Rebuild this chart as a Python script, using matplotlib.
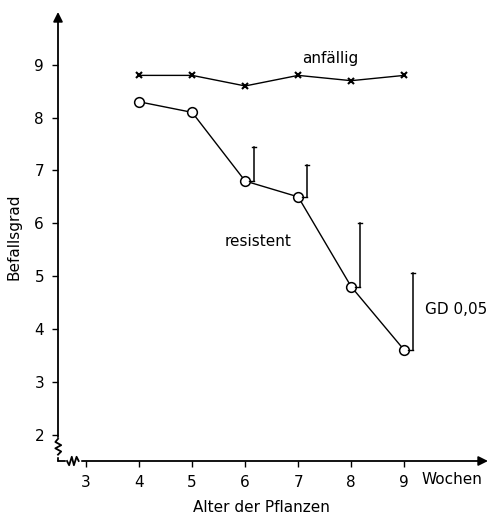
import matplotlib.pyplot as plt

# data
wochen = [4, 5, 6, 7, 8, 9]
anfaellig = [8.8, 8.8, 8.6, 8.8, 8.7, 8.8]
resistent = [8.3, 8.1, 6.8, 6.5, 4.8, 3.6]
gd_wochen = [6, 7, 8, 9]
gd_werte = [0.65, 0.6, 1.2, 1.45]
x_ticks = [3, 4, 5, 6, 7, 8, 9]
y_ticks = [2, 3, 4, 5, 6, 7, 8, 9]

fig = plt.figure(figsize=(4.88, 5.16), dpi=100)
ax = fig.add_axes((58 / 488, 55 / 516, 430 / 488, 449 / 516))
ax.set_xlim(2.47, 10.58)
ax.set_ylim(1.5, 10.0)

for s in ax.spines.values():
    s.set_visible(False)

# axes with arrows
arrow = dict(arrowstyle='-|>', color='black', lw=1.3, mutation_scale=14,
             shrinkA=0, shrinkB=0)
ax.annotate('', xy=(1.0, 0), xytext=(0, 0), xycoords='axes fraction', arrowprops=arrow)
ax.annotate('', xy=(0, 1.0), xytext=(0, 0), xycoords='axes fraction', arrowprops=arrow)

# axis break marks (zigzags)
ax.plot([2.47, 2.47], [1.62, 1.92], color='white', lw=2.5, zorder=3, clip_on=False)
ax.plot([2.47, 2.53, 2.42, 2.53, 2.42, 2.47], [1.62, 1.68, 1.74, 1.80, 1.86, 1.92],
        color='black', lw=1.3, zorder=4, clip_on=False)
ax.plot([2.64, 2.86], [1.5, 1.5], color='white', lw=2.5, zorder=3, clip_on=False)
ax.plot([2.64, 2.68, 2.73, 2.77, 2.82, 2.86], [1.5, 1.42, 1.58, 1.42, 1.58, 1.5],
        color='black', lw=1.3, zorder=4, clip_on=False)

ax.set_xticks(x_ticks)
ax.set_yticks(y_ticks)
ax.tick_params(direction='out', length=4, width=1, labelsize=11)
ax.tick_params(axis='x', pad=6)
ax.tick_params(axis='y', pad=6)

# series
ax.plot(wochen, anfaellig, color='black', lw=1.0, marker='x', markersize=4,
        markeredgewidth=1.5, clip_on=False)
ax.plot(wochen, resistent, color='black', lw=1.0, marker='o', markersize=7,
        markerfacecolor='white', markeredgewidth=1.1, clip_on=False)

# GD 0,05 bars
for w, g in zip(gd_wochen, gd_werte):
    y0 = resistent[wochen.index(w)]
    xb = w + 0.16
    ax.plot([xb, xb], [y0, y0 + g], color='black', lw=1.1)
    ax.plot([xb - 0.04, xb + 0.04], [y0 + g, y0 + g], color='black', lw=1.0)
    ax.plot([w + 0.08, xb], [y0, y0], color='black', lw=1.0)

ax.text(7.6, 9.12, 'anfällig', fontsize=11, ha='center', va='center')
ax.text(6.25, 5.65, 'resistent', fontsize=11, ha='center', va='center')
ax.text(9.39, 4.37, 'GD 0,05', fontsize=11, ha='left', va='center')
ax.text(9.32, -0.042, 'Wochen', fontsize=11, ha='left', va='center',
        transform=ax.get_xaxis_transform())

ax.set_xlabel('Alter der Pflanzen', fontsize=11, labelpad=7, x=0.474)
ax.set_ylabel('Befallsgrad', fontsize=11, labelpad=9)

fig.savefig('out.png', dpi=100)
